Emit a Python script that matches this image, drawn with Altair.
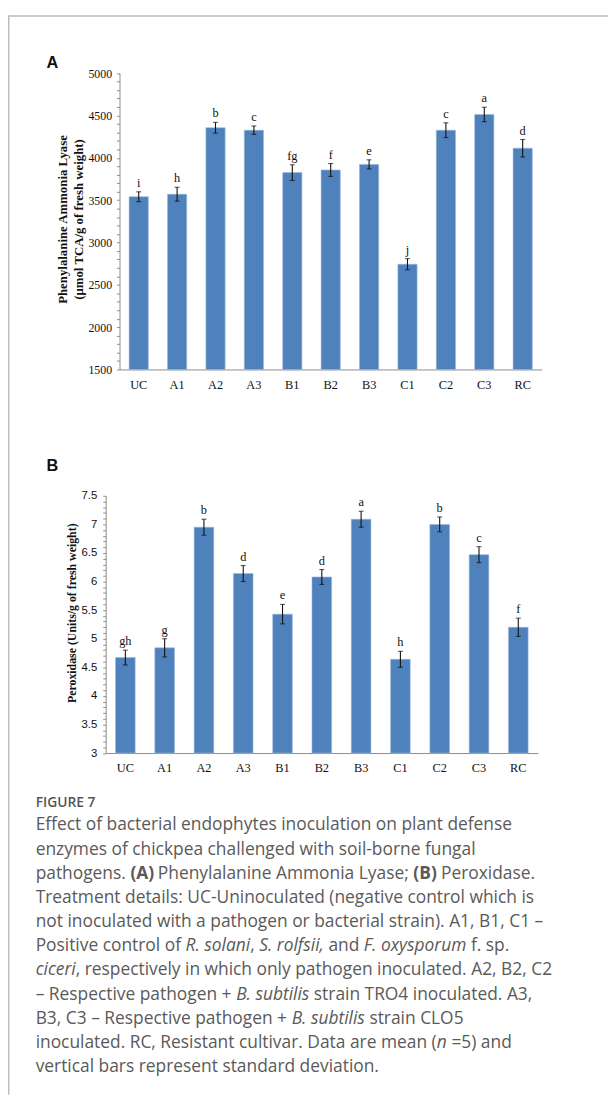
import re
import struct
import subprocess

import altair as alt
import pandas as pd

# ---------------- data ----------------
cats = ["UC", "A1", "A2", "A3", "B1", "B2", "B3", "C1", "C2", "C3", "RC"]

pal_mean = [3540, 3570, 4355, 4326, 3825, 3856, 3922, 2743, 4326, 4512, 4113]
pal_sd = [58, 82, 64, 50, 93, 76, 54, 66, 87, 85, 103]
pal_letters = ["i", "h", "b", "c", "fg", "f", "e", "j", "c", "a", "d"]

pod_mean = [4.67, 4.84, 6.95, 6.14, 5.43, 6.08, 7.09, 4.64, 7.00, 6.47, 5.20]
pod_sd = [0.13, 0.16, 0.14, 0.14, 0.17, 0.13, 0.14, 0.14, 0.13, 0.14, 0.16]
pod_letters = ["gh", "g", "b", "d", "e", "d", "a", "h", "b", "c", "f"]

pal_ticks = list(range(1500, 5001, 100))
pod_ticks = [round(3 + 0.1 * i, 1) for i in range(46)]

title_a1 = "Phenylalanine Ammonia Lyase"
title_a2 = "(\u03bcmol TCA/g of fresh weight)"
title_b = "Peroxidase (Units/g of fresh weight)"

fig_label = "FIGURE 7"
# *...* = italic, #...# = bold
caption_lines = [
    "Effect of bacterial endophytes inoculation on plant defense",
    "enzymes of chickpea challenged with soil-borne fungal",
    "pathogens. #(A)# Phenylalanine Ammonia Lyase; #(B)# Peroxidase.",
    "Treatment details: UC-Uninoculated (negative control which is",
    "not inoculated with a pathogen or bacterial strain). A1, B1, C1 \u2013",
    "Positive control of *R. solani*, *S. rolfsii,* and *F. oxysporum* f. sp.",
    "*ciceri*, respectively in which only pathogen inoculated. A2, B2, C2",
    "\u2013 Respective pathogen + *B. subtilis* strain TRO4 inoculated. A3,",
    "B3, C3 \u2013 Respective pathogen + *B. subtilis* strain CLO5",
    "inoculated. RC, Resistant cultivar. Data are mean (*n* =5) and",
    "vertical bars represent standard deviation.",
]

W, H = 608, 1094
AXIS_COLOR = "#8c8c8c"
BAR_COLOR = "#4F81BD"
CAP_FONT = "Open Sans"
CAP_SIZE = 17.6
CAP_COLOR = "#5a5a5a"
CAP_X, CAP_Y0, CAP_LH = 28, 826, 24.5


# ---------------- font metrics (for caption rich text layout) ----------------
def _parse_cmap(data, c):
    n = struct.unpack(">H", data[c + 2:c + 4])[0]
    subs = []
    for i in range(n):
        pid, eid, off = struct.unpack(">HHI", data[c + 4 + 8 * i:c + 12 + 8 * i])
        subs.append(c + off)
    for s in subs:
        if struct.unpack(">H", data[s:s + 2])[0] == 12:
            ng = struct.unpack(">I", data[s + 12:s + 16])[0]
            m = {}
            for k in range(ng):
                a, b, g = struct.unpack(">III", data[s + 16 + 12 * k:s + 28 + 12 * k])
                if a > 0x2100:
                    continue
                for cp in range(a, min(b, 0x2100) + 1):
                    m[cp] = g + cp - a
            return m
    for s in subs:
        if struct.unpack(">H", data[s:s + 2])[0] == 4:
            segx2 = struct.unpack(">H", data[s + 6:s + 8])[0]
            seg = segx2 // 2
            ends = struct.unpack(">%dH" % seg, data[s + 14:s + 14 + segx2])
            starts = struct.unpack(">%dH" % seg, data[s + 16 + segx2:s + 16 + 2 * segx2])
            deltas = struct.unpack(">%dh" % seg, data[s + 16 + 2 * segx2:s + 16 + 3 * segx2])
            ro = s + 16 + 3 * segx2
            roffs = struct.unpack(">%dH" % seg, data[ro:ro + segx2])
            m = {}
            for k in range(seg):
                if starts[k] > 0x2100:
                    continue
                for cp in range(starts[k], min(ends[k], 0x2100) + 1):
                    if roffs[k] == 0:
                        g = (cp + deltas[k]) & 0xFFFF
                    else:
                        p = ro + 2 * k + roffs[k] + 2 * (cp - starts[k])
                        g = struct.unpack(">H", data[p:p + 2])[0]
                        if g:
                            g = (g + deltas[k]) & 0xFFFF
                    m[cp] = g
            return m
    return {}


class FontMetrics:
    def __init__(self, path, scale=1.0):
        data = open(path, "rb").read()
        base = 0
        if data[:4] == b"ttcf":
            base = struct.unpack(">I", data[12:16])[0]
        num = struct.unpack(">H", data[base + 4:base + 6])[0]
        t = {}
        for i in range(num):
            rec = base + 12 + 16 * i
            t[data[rec:rec + 4].decode("latin1")] = struct.unpack(">I", data[rec + 8:rec + 12])[0]
        self.upem = struct.unpack(">H", data[t["head"] + 18:t["head"] + 20])[0]
        nh = struct.unpack(">H", data[t["hhea"] + 34:t["hhea"] + 36])[0]
        h = t["hmtx"]
        self.adv = [struct.unpack(">H", data[h + 4 * i:h + 4 * i + 2])[0] for i in range(nh)]
        self.cmap = _parse_cmap(data, t["cmap"])
        self.scale = scale
        if not self.cmap:
            raise ValueError("no cmap")

    def width(self, s, size):
        tot = 0
        for ch in s:
            g = self.cmap.get(ord(ch), 0)
            tot += self.adv[min(g, len(self.adv) - 1)]
        return tot / self.upem * size * self.scale


def font_path(pattern):
    return subprocess.run(["fc-match", "-f", "%{file}", pattern],
                          capture_output=True, text=True, timeout=10).stdout.strip()


def layout_caption():
    p_reg = font_path(CAP_FONT)
    p_ita = font_path(CAP_FONT + ":italic")
    p_bold = font_path(CAP_FONT + ":bold")
    fm = {"regular": FontMetrics(p_reg),
          "italic": FontMetrics(p_ita),
          # a variable font keeps regular advances in hmtx: widen for bold
          "bold": FontMetrics(p_bold, 1.08 if p_bold == p_reg else 1.0)}
    rows = []
    for i, line in enumerate(caption_lines):
        y = CAP_Y0 + i * CAP_LH
        x = CAP_X
        for part in re.split(r"(\*[^*]+\*|#[^#]+#)", line):
            if not part:
                continue
            style = "regular"
            if part.startswith("*"):
                style, part = "italic", part[1:-1]
            elif part.startswith("#"):
                style, part = "bold", part[1:-1]
            stripped = part.lstrip(" ")
            x += fm[style].width(part[:len(part) - len(stripped)], CAP_SIZE)
            if stripped:
                rows.append({"x": x, "y": y, "t": stripped, "style": style})
            x += fm[style].width(stripped, CAP_SIZE)
    return pd.DataFrame(rows)


# ---------------- panels ----------------
def make_df(mean, sd, letters):
    df = pd.DataFrame({"cat": cats, "val": mean, "sd": sd, "letter": letters})
    df["lo"] = df["val"] - df["sd"]
    df["hi"] = df["val"] + df["sd"]
    return df


def make_panel(df, base, x_range, y_domain, y_range, x_axis_y, y_axis_x,
               tick_vals, label_expr, y_font, y_size, y_pad):
    xs = alt.Scale(domain=cats, range=x_range, paddingInner=0.5, paddingOuter=0.25)
    xaxis = alt.Axis(orient="bottom", offset=x_axis_y - H, title=None, ticks=False,
                     tickSize=0, labelAngle=0, labelFont="Liberation Serif",
                     labelFontSize=12.5, labelColor="#111", labelPadding=9,
                     domainColor=AXIS_COLOR, domainWidth=1, grid=False)
    ys = alt.Scale(domain=y_domain, range=y_range, zero=False, nice=False)
    yaxis = alt.Axis(orient="left", offset=-y_axis_x, title=None, values=tick_vals,
                     labelExpr=label_expr, grid=False, tickSize=3,
                     tickColor=AXIS_COLOR, domainColor=AXIS_COLOR, domainWidth=1,
                     labelFont=y_font, labelFontSize=y_size, labelPadding=y_pad,
                     labelColor="#111")
    X = alt.X("cat:N", scale=xs, axis=xaxis, sort=cats)

    def Y(field):
        return alt.Y(field, scale=ys, axis=yaxis)

    c = alt.Chart(df)
    bars = c.mark_bar(color=BAR_COLOR, stroke="#9db7dc", strokeWidth=0.6).encode(
        x=X, y=Y("val:Q"), y2=alt.datum(base))
    err = c.mark_rule(color="#111", strokeWidth=1.1).encode(
        x=X, y=Y("lo:Q"), y2="hi:Q")
    cap_lo = c.mark_tick(color="#111", size=5, thickness=1.1).encode(x=X, y=Y("lo:Q"))
    cap_hi = c.mark_tick(color="#111", size=5, thickness=1.1).encode(x=X, y=Y("hi:Q"))
    txt = c.mark_text(font="Liberation Serif", fontSize=12.5, dy=-5,
                      baseline="alphabetic", color="#111").encode(
        x=X, y=Y("hi:Q"), text="letter:N")
    return alt.layer(bars, err, cap_lo, cap_hi, txt)


panel_a = make_panel(
    make_df(pal_mean, pal_sd, pal_letters), 1500,
    x_range=[113, 541], y_domain=[1500, 5000], y_range=[359, 58.7],
    x_axis_y=359, y_axis_x=113, tick_vals=pal_ticks,
    label_expr="datum.value % 500 === 0 ? format(datum.value, 'd') : ''",
    y_font="Liberation Serif", y_size=12, y_pad=5)

panel_b = make_panel(
    make_df(pod_mean, pod_sd, pod_letters), 3,
    x_range=[99, 537], y_domain=[3, 7.5], y_range=[747.7, 487],
    x_axis_y=747.7, y_axis_x=99, tick_vals=pod_ticks,
    label_expr="abs(datum.value * 2 - round(datum.value * 2)) < 0.001 ? format(datum.value, '.1~f') : ''",
    y_font="Liberation Sans", y_size=11.5, y_pad=6)


def text_layer(text, x, y, **kw):
    return alt.Chart(pd.DataFrame({"t": [text]})).mark_text(**kw).encode(
        x=alt.value(x), y=alt.value(y), text="t:N")


serif_bold = dict(font="Liberation Serif", fontWeight="bold", color="#111",
                  angle=270, align="center", baseline="middle")

deco = [
    text_layer("A", 39, 48, font="Liberation Sans", fontWeight="bold", fontSize=16.5,
               align="left", baseline="middle", color="#111"),
    text_layer("B", 39, 457, font="Liberation Sans", fontWeight="bold", fontSize=16.5,
               align="left", baseline="middle", color="#111"),
    text_layer(title_a1, 56, 207, fontSize=13, **serif_bold),
    text_layer(title_a2, 72, 207, fontSize=13, **serif_bold),
    text_layer(title_b, 65, 606, fontSize=12, **serif_bold),
    text_layer(fig_label, 28, 802, font=CAP_FONT, fontSize=14, fontWeight=600,
               color="#555", align="left", baseline="alphabetic"),
]

# caption: rich text when font metrics are available, plain otherwise
try:
    cap_df = layout_caption()
    styles = {"regular": {}, "italic": {"fontStyle": "italic"},
              "bold": {"fontWeight": "bold"}}
    for st, extra in styles.items():
        sub = cap_df[cap_df["style"] == st]
        if len(sub):
            deco.append(alt.Chart(sub).mark_text(
                font=CAP_FONT, fontSize=CAP_SIZE, color=CAP_COLOR, align="left",
                baseline="alphabetic", **extra).encode(
                x=alt.X("x:Q", scale=None, axis=None),
                y=alt.Y("y:Q", scale=None, axis=None),
                text="t:N"))
except Exception:
    plain = [re.sub(r"[*#]", "", ln) for ln in caption_lines]
    deco.append(text_layer("\n".join(plain), CAP_X, CAP_Y0, font=CAP_FONT,
                           fontSize=CAP_SIZE, color=CAP_COLOR, align="left",
                           baseline="alphabetic", lineBreak="\n", lineHeight=CAP_LH))

border_top = alt.Chart(pd.DataFrame({"k": [0]})).mark_rule(
    color="#bdbdbd", strokeWidth=1.5).encode(
    x=alt.value(0), x2=alt.value(W), y=alt.value(0.75))
border_left = alt.Chart(pd.DataFrame({"k": [0]})).mark_rule(
    color="#bdbdbd", strokeWidth=1.5).encode(
    x=alt.value(0.75), y=alt.value(0), y2=alt.value(H))

chart = alt.layer(panel_a, panel_b, *deco, border_top, border_left).resolve_scale(
    x="independent", y="independent"
).properties(
    width=W, height=H, autosize=alt.AutoSizeParams(type="none"), padding=0,
    background="white"
).configure_view(strokeWidth=0)

chart.save("out.html", embed_options={"renderer": "svg", "actions": False})
